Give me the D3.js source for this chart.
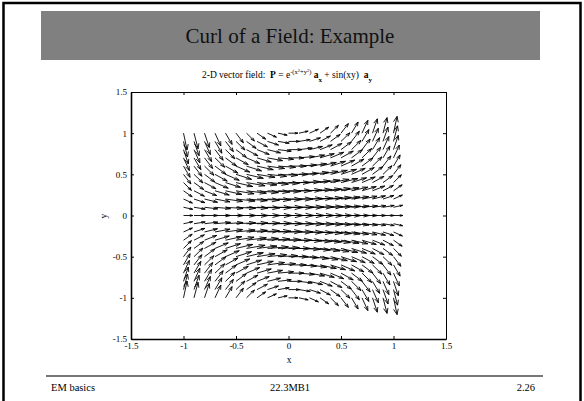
<!DOCTYPE html>
<html>
<head>
<meta charset="utf-8">
<script src="https://cdn.jsdelivr.net/npm/d3@7"></script>
<style>
  body { margin: 0; background: #fff; }
  text { font-family: "Liberation Serif", "Times New Roman", serif; white-space: pre; }
</style>
</head>
<body>
<div id="chart"></div>
<script>
// grid of arrow tails
var xs = [-1, -0.9, -0.8, -0.7, -0.6, -0.5, -0.4, -0.3, -0.2, -0.1, 0, 0.1, 0.2, 0.3, 0.4, 0.5, 0.6, 0.7, 0.8, 0.9, 1];
var ys = [-1, -0.9, -0.8, -0.7, -0.6, -0.5, -0.4, -0.3, -0.2, -0.1, 0, 0.1, 0.2, 0.3, 0.4, 0.5, 0.6, 0.7, 0.8, 0.9, 1];

// x component, one row per y value (y = -1 ... 1), columns x = -1 ... 1
var U = [
  [.14,.16,.19,.23,.26,.29,.31,.34,.35,.36,.37,.36,.35,.34,.31,.29,.26,.23,.19,.16,.14],
  [.16,.20,.23,.27,.31,.35,.38,.41,.43,.44,.44,.44,.43,.41,.38,.35,.31,.27,.23,.20,.16],
  [.19,.23,.28,.32,.37,.41,.45,.48,.51,.52,.53,.52,.51,.48,.45,.41,.37,.32,.28,.23,.19],
  [.23,.27,.32,.38,.43,.48,.52,.56,.59,.61,.61,.61,.59,.56,.52,.48,.43,.38,.32,.27,.23],
  [.26,.31,.37,.43,.49,.54,.59,.64,.67,.69,.70,.69,.67,.64,.59,.54,.49,.43,.37,.31,.26],
  [.29,.35,.41,.48,.54,.61,.66,.71,.75,.77,.78,.77,.75,.71,.66,.61,.54,.48,.41,.35,.29],
  [.31,.38,.45,.52,.59,.66,.73,.78,.82,.84,.85,.84,.82,.78,.73,.66,.59,.52,.45,.38,.31],
  [.34,.41,.48,.56,.64,.71,.78,.84,.88,.90,.91,.90,.88,.84,.78,.71,.64,.56,.48,.41,.34],
  [.35,.43,.51,.59,.67,.75,.82,.88,.92,.95,.96,.95,.92,.88,.82,.75,.67,.59,.51,.43,.35],
  [.36,.44,.52,.61,.69,.77,.84,.90,.95,.98,.99,.98,.95,.90,.84,.77,.69,.61,.52,.44,.36],
  [.37,.44,.53,.61,.70,.78,.85,.91,.96,.99,1.0,.99,.96,.91,.85,.78,.70,.61,.53,.44,.37],
  [.36,.44,.52,.61,.69,.77,.84,.90,.95,.98,.99,.98,.95,.90,.84,.77,.69,.61,.52,.44,.36],
  [.35,.43,.51,.59,.67,.75,.82,.88,.92,.95,.96,.95,.92,.88,.82,.75,.67,.59,.51,.43,.35],
  [.34,.41,.48,.56,.64,.71,.78,.84,.88,.90,.91,.90,.88,.84,.78,.71,.64,.56,.48,.41,.34],
  [.31,.38,.45,.52,.59,.66,.73,.78,.82,.84,.85,.84,.82,.78,.73,.66,.59,.52,.45,.38,.31],
  [.29,.35,.41,.48,.54,.61,.66,.71,.75,.77,.78,.77,.75,.71,.66,.61,.54,.48,.41,.35,.29],
  [.26,.31,.37,.43,.49,.54,.59,.64,.67,.69,.70,.69,.67,.64,.59,.54,.49,.43,.37,.31,.26],
  [.23,.27,.32,.38,.43,.48,.52,.56,.59,.61,.61,.61,.59,.56,.52,.48,.43,.38,.32,.27,.23],
  [.19,.23,.28,.32,.37,.41,.45,.48,.51,.52,.53,.52,.51,.48,.45,.41,.37,.32,.28,.23,.19],
  [.16,.20,.23,.27,.31,.35,.38,.41,.43,.44,.44,.44,.43,.41,.38,.35,.31,.27,.23,.20,.16],
  [.14,.16,.19,.23,.26,.29,.31,.34,.35,.36,.37,.36,.35,.34,.31,.29,.26,.23,.19,.16,.14]
];

// y component, same layout
var V = [
  [.84,.78,.72,.64,.56,.48,.39,.30,.20,.10,0,-.10,-.20,-.30,-.39,-.48,-.56,-.64,-.72,-.78,-.84],
  [.78,.72,.66,.59,.51,.43,.35,.27,.18,.09,0,-.09,-.18,-.27,-.35,-.43,-.51,-.59,-.66,-.72,-.78],
  [.72,.66,.60,.53,.46,.39,.31,.24,.16,.08,0,-.08,-.16,-.24,-.31,-.39,-.46,-.53,-.60,-.66,-.72],
  [.64,.59,.53,.47,.41,.34,.28,.21,.14,.07,0,-.07,-.14,-.21,-.28,-.34,-.41,-.47,-.53,-.59,-.64],
  [.56,.51,.46,.41,.35,.30,.24,.18,.12,.06,0,-.06,-.12,-.18,-.24,-.30,-.35,-.41,-.46,-.51,-.56],
  [.48,.43,.39,.34,.30,.25,.20,.15,.10,.05,0,-.05,-.10,-.15,-.20,-.25,-.30,-.34,-.39,-.43,-.48],
  [.39,.35,.31,.28,.24,.20,.16,.12,.08,.04,0,-.04,-.08,-.12,-.16,-.20,-.24,-.28,-.31,-.35,-.39],
  [.30,.27,.24,.21,.18,.15,.12,.09,.06,.03,0,-.03,-.06,-.09,-.12,-.15,-.18,-.21,-.24,-.27,-.30],
  [.20,.18,.16,.14,.12,.10,.08,.06,.04,.02,0,-.02,-.04,-.06,-.08,-.10,-.12,-.14,-.16,-.18,-.20],
  [.10,.09,.08,.07,.06,.05,.04,.03,.02,.01,0,-.01,-.02,-.03,-.04,-.05,-.06,-.07,-.08,-.09,-.10],
  [0,0,0,0,0,0,0,0,0,0,0,0,0,0,0,0,0,0,0,0,0],
  [-.10,-.09,-.08,-.07,-.06,-.05,-.04,-.03,-.02,-.01,0,.01,.02,.03,.04,.05,.06,.07,.08,.09,.10],
  [-.20,-.18,-.16,-.14,-.12,-.10,-.08,-.06,-.04,-.02,0,.02,.04,.06,.08,.10,.12,.14,.16,.18,.20],
  [-.30,-.27,-.24,-.21,-.18,-.15,-.12,-.09,-.06,-.03,0,.03,.06,.09,.12,.15,.18,.21,.24,.27,.30],
  [-.39,-.35,-.31,-.28,-.24,-.20,-.16,-.12,-.08,-.04,0,.04,.08,.12,.16,.20,.24,.28,.31,.35,.39],
  [-.48,-.43,-.39,-.34,-.30,-.25,-.20,-.15,-.10,-.05,0,.05,.10,.15,.20,.25,.30,.34,.39,.43,.48],
  [-.56,-.51,-.46,-.41,-.35,-.30,-.24,-.18,-.12,-.06,0,.06,.12,.18,.24,.30,.35,.41,.46,.51,.56],
  [-.64,-.59,-.53,-.47,-.41,-.34,-.28,-.21,-.14,-.07,0,.07,.14,.21,.28,.34,.41,.47,.53,.59,.64],
  [-.72,-.66,-.60,-.53,-.46,-.39,-.31,-.24,-.16,-.08,0,.08,.16,.24,.31,.39,.46,.53,.60,.66,.72],
  [-.78,-.72,-.66,-.59,-.51,-.43,-.35,-.27,-.18,-.09,0,.09,.18,.27,.35,.43,.51,.59,.66,.72,.78],
  [-.84,-.78,-.72,-.64,-.56,-.48,-.39,-.30,-.20,-.10,0,.10,.20,.30,.39,.48,.56,.64,.72,.78,.84]
];

var tickVals = [-1.5, -1, -0.5, 0, 0.5, 1, 1.5];

var svg = d3.select("#chart")
    .append("svg")
    .attr("width", 584)
    .attr("height", 401);

// slide frame
svg.append("path")
    .attr("d", "M3.5,405 V3 H580.5 V405")
    .attr("fill", "none")
    .attr("stroke", "#000")
    .attr("stroke-width", 2.5);

// title band
svg.append("rect")
    .attr("x", 41)
    .attr("y", 11)
    .attr("width", 499)
    .attr("height", 49)
    .attr("fill", "#808080");

svg.append("text")
    .attr("x", 290)
    .attr("y", 43)
    .attr("text-anchor", "middle")
    .attr("font-size", "21px")
    .attr("fill", "#111")
    .text("Curl of a Field: Example");

// plot title with sub/superscripts
var sub = svg.append("text")
    .attr("x", 287)
    .attr("y", 78)
    .attr("text-anchor", "middle")
    .attr("font-size", "9.5px")
    .attr("fill", "#000");
sub.append("tspan").text("2-D vector field:  ");
sub.append("tspan").attr("font-weight", 700).text("P");
sub.append("tspan").text(" = e");
sub.append("tspan").attr("font-size", "6.5px").attr("dy", -4).text("-(x");
sub.append("tspan").attr("font-size", "4.5px").attr("dy", -2).text("2");
sub.append("tspan").attr("font-size", "6.5px").attr("dy", 2).text("+y");
sub.append("tspan").attr("font-size", "4.5px").attr("dy", -2).text("2");
sub.append("tspan").attr("font-size", "6.5px").attr("dy", 2).text(")");
sub.append("tspan").attr("dy", 4).text(" ");
sub.append("tspan").attr("font-weight", 700).text("a");
sub.append("tspan").attr("font-weight", 700).attr("font-size", "7px").attr("dy", 4).text("x");
sub.append("tspan").attr("dy", -4).text(" + sin(xy)  ");
sub.append("tspan").attr("font-weight", 700).text("a");
sub.append("tspan").attr("font-weight", 700).attr("font-size", "7px").attr("dy", 4).text("y");

var x = d3.scaleLinear().domain([-1.5, 1.5]).range([131, 446]);
var y = d3.scaleLinear().domain([-1.5, 1.5]).range([339, 92]);

function styleAxis(g) {
    g.selectAll("text")
        .attr("font-family", "Liberation Serif, serif")
        .attr("font-size", "9px")
        .attr("fill", "#000");
    g.selectAll("line").attr("stroke", "#000");
    g.select(".domain").attr("stroke", "#000");
}

svg.append("g")
    .attr("transform", "translate(0,339)")
    .call(d3.axisBottom(x).tickValues(tickVals).tickSize(-3).tickSizeOuter(0).tickPadding(4)
        .tickFormat(function (d) { return String(d); }))
    .call(styleAxis)
    .select(".domain").attr("stroke-width", 1.6);

svg.append("g")
    .attr("transform", "translate(131,0)")
    .call(d3.axisLeft(y).tickValues(tickVals).tickSize(-3).tickSizeOuter(0).tickPadding(4)
        .tickFormat(function (d) { return String(d); }))
    .call(styleAxis)
    .select(".domain").attr("stroke-width", 1.6);

svg.append("g")
    .attr("transform", "translate(0,92)")
    .call(d3.axisTop(x).tickValues(tickVals).tickSize(-3).tickSizeOuter(0).tickFormat(""))
    .call(styleAxis);

svg.append("g")
    .attr("transform", "translate(446,0)")
    .call(d3.axisRight(y).tickValues(tickVals).tickSize(-3).tickSizeOuter(0).tickFormat(""))
    .call(styleAxis);

svg.append("text")
    .attr("x", 289)
    .attr("y", 363)
    .attr("text-anchor", "middle")
    .attr("font-size", "9.5px")
    .text("x");

svg.append("text")
    .attr("transform", "translate(107,216) rotate(-90)")
    .attr("text-anchor", "middle")
    .attr("font-size", "9.5px")
    .text("y");

// quiver, scaled from the grid spacing like matlab (with a bigger factor)
var arrows = [];
ys.forEach(function (yv, j) {
    xs.forEach(function (xv, i) {
        arrows.push({x: xv, y: yv, u: U[j][i], v: V[j][i]});
    });
});

var autoscale = 2;
var delx = (d3.max(xs) - d3.min(xs)) / xs.length;
var dely = (d3.max(ys) - d3.min(ys)) / ys.length;
var del = delx * delx + dely * dely;
var maxlen = d3.max(arrows, function (d) { return Math.sqrt((d.u * d.u + d.v * d.v) / del); });
var scale = autoscale * 0.9 / maxlen;
var alpha = 0.33, beta = 0.33;

function arrowPath(d) {
    var u = d.u * scale, v = d.v * scale;
    var tx = d.x + u, ty = d.y + v;
    var p = d3.path();
    p.moveTo(x(d.x), y(d.y));
    p.lineTo(x(tx), y(ty));
    p.moveTo(x(tx - alpha * (u + beta * v)), y(ty - alpha * (v - beta * u)));
    p.lineTo(x(tx), y(ty));
    p.lineTo(x(tx - alpha * (u - beta * v)), y(ty - alpha * (v + beta * u)));
    return p.toString();
}

svg.append("g")
    .selectAll("path")
    .data(arrows)
    .enter()
    .append("path")
    .attr("d", arrowPath)
    .attr("fill", "none")
    .attr("stroke", "#000")
    .attr("stroke-width", 0.9);

// footer
svg.append("line")
    .attr("x1", 46)
    .attr("x2", 543)
    .attr("y1", 376)
    .attr("y2", 376)
    .attr("stroke", "#777")
    .attr("stroke-width", 2);

svg.append("text").attr("x", 51).attr("y", 391).attr("font-size", "10.5px").text("EM basics");
svg.append("text").attr("x", 290).attr("y", 391).attr("text-anchor", "middle").attr("font-size", "10.5px").text("22.3MB1");
svg.append("text").attr("x", 535).attr("y", 391).attr("text-anchor", "end").attr("font-size", "10.5px").text("2.26");
</script>
</body>
</html>
